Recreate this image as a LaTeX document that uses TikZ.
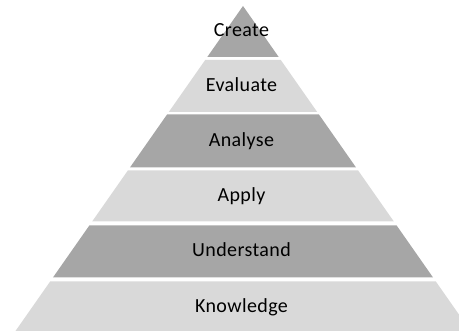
\documentclass[tikz,border=0pt]{standalone}
\usepackage{fontspec}
\setmainfont{Carlito}[LetterSpace=2]
\definecolor{bandDark}{HTML}{A6A6A6}
\definecolor{bandLight}{HTML}{D9D9D9}
\tikzset{
  band/.style={fill=#1, draw=none},
  lvl/.style={anchor=base, text=black, inner sep=0pt, font=\fontsize{20}{22}\selectfont}
}
\begin{document}
\begin{tikzpicture}[x=1pt, y=-1pt]
\useasboundingbox (0,0) rectangle (459,331);
\clip (0,0) rectangle (459,331);
\foreach \ya/\yb/\col/\lab/\nm in {
  6/57/bandDark/Create/create,
  60/112/bandLight/Evaluate/evaluate,
  114.5/167.5/bandDark/Analyse/analyse,
  170.5/221.5/bandLight/Apply/apply,
  225.5/277.5/bandDark/Understand/understand,
  281.5/345/bandLight/Knowledge/knowledge}{
  \fill[band=\col] ({243-0.7*(\ya-6)},\ya) -- ({243+0.7*(\ya-6)},\ya)
     -- ({243+0.7*(\yb-6)},\yb) -- ({243-0.7*(\yb-6)},\yb) -- cycle;
}
\node[lvl] (create) at (241.5,36.5) {Create};
\node[lvl] (evaluate) at (241.5,91.5) {Evaluate};
\node[lvl] (analyse) at (241.5,146.5) {Analyse};
\node[lvl] (apply) at (241.5,201.5) {Apply};
\node[lvl] (understand) at (241.5,257) {Understand};
\node[lvl] (knowledge) at (241.5,313) {Knowledge};
\end{tikzpicture}
\end{document}
